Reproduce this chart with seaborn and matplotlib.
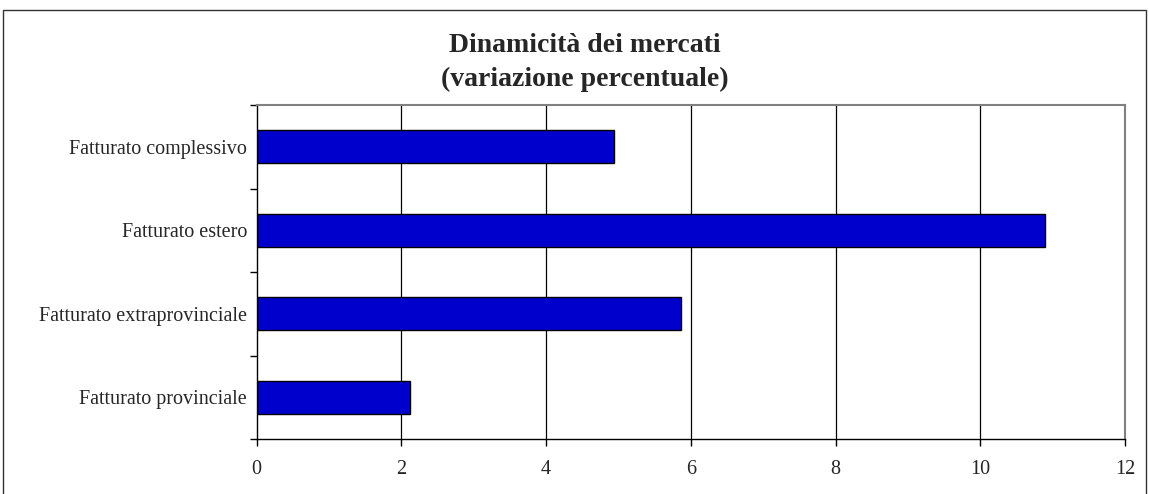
"""Dinamicita dei mercati - barre orizzontali in stile foglio di calcolo."""

import matplotlib

matplotlib.use("Agg")
import matplotlib.pyplot as plt
import pandas as pd
import seaborn as sns
from matplotlib.patches import Rectangle

sns.set_theme(style="white")
plt.rcParams["font.family"] = ["Liberation Serif", "DejaVu Serif"]

categorie = [
    "Fatturato complessivo",
    "Fatturato estero",
    "Fatturato extraprovinciale",
    "Fatturato provinciale",
]
variazione = [4.94, 10.90, 5.87, 2.12]
x_ticks = [0, 2, 4, 6, 8, 10, 12]

df = pd.DataFrame({"categoria": categorie, "variazione": variazione})

fig = plt.figure(figsize=(11.49, 4.94), dpi=100)
ax = fig.add_axes([0.2234, 0.1113, 0.7557, 0.6761])

sns.barplot(
    data=df,
    x="variazione",
    y="categoria",
    orient="h",
    color="#0000CC",
    saturation=1,
    width=0.4,
    edgecolor="black",
    linewidth=1.0,
    ax=ax,
)

ax.set_xlim(0, 12)
ax.set_ylim(len(categorie) - 0.5, -0.5)
ax.set_xticks(x_ticks)
ax.set_xticklabels([str(t) for t in x_ticks], fontsize=14.5)
ax.set_xlabel("")
ax.set_ylabel("")

# etichette al centro, tacche ai confini delle categorie
ax.set_yticks(range(len(categorie)))
ax.set_yticklabels(categorie, fontsize=14.5)
ax.tick_params(axis="y", which="major", length=0, pad=7)
ax.set_yticks([i - 0.5 for i in range(len(categorie) + 1)], minor=True)
ax.tick_params(axis="y", which="minor", length=5, width=1, color="black", direction="out", left=True)
ax.tick_params(axis="x", length=5, width=1, color="black", direction="out", bottom=True, pad=10)

ax.grid(False)
for x in x_ticks[1:-1]:
    ax.axvline(x, color="black", linewidth=0.9, zorder=0)
ax.set_axisbelow(True)

for side in ("left", "bottom"):
    ax.spines[side].set_color("black")
    ax.spines[side].set_linewidth(1.0)
for side in ("top", "right"):
    ax.spines[side].set_color("#808080")
    ax.spines[side].set_linewidth(1.5)

fig.text(0.509, 0.907, "Dinamicità dei mercati", ha="center", va="center",
         fontsize=20, fontweight="bold")
fig.text(0.509, 0.840, "(variazione percentuale)", ha="center", va="center",
         fontsize=20, fontweight="bold")

# cornice esterna del grafico
fig.patches.append(
    Rectangle((3 / 1149, -0.1), 1143 / 1149, 1.1 - 10 / 494, transform=fig.transFigure,
              fill=False, edgecolor="#333333", linewidth=1.0)
)

fig.savefig("out.png", dpi=100)
